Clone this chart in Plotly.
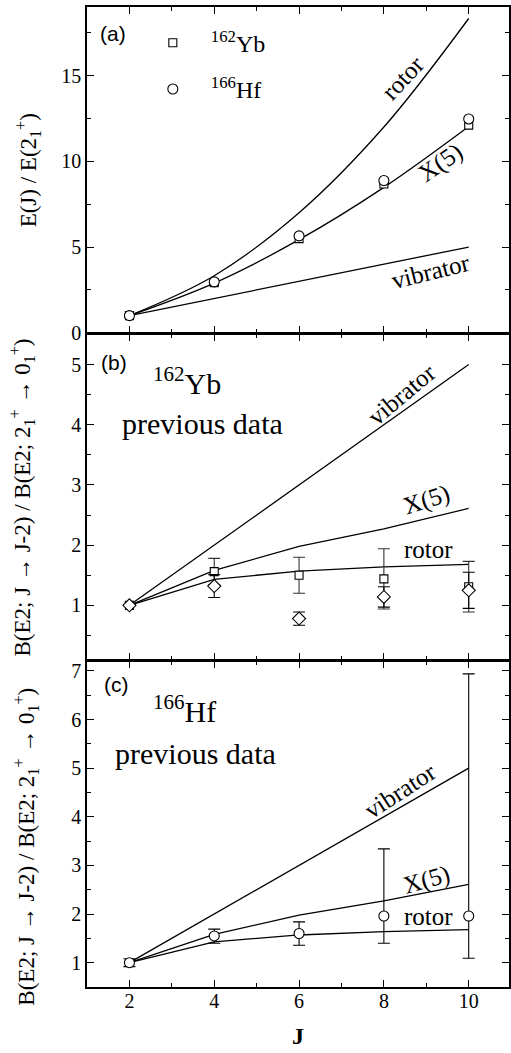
import plotly.graph_objects as go
from plotly.subplots import make_subplots

# Spin values of the ground-state band
J = [2, 4, 6, 8, 10]

# (a) Energy ratios E(J)/E(2+)
rotor_E = [1.0, 3.33, 7.0, 12.0, 18.33]
x5_E = [1.0, 2.90, 5.43, 8.48, 12.03]
vib_E = [1.0, 2.0, 3.0, 4.0, 5.0]
yb162_E = [1.0, 2.92, 5.49, 8.68, 12.11]
hf166_E = [1.0, 2.97, 5.65, 8.88, 12.47]

# (b), (c) B(E2) ratios
vib_B = [1.0, 2.0, 3.0, 4.0, 5.0]
x5_B = [1.0, 1.58, 1.98, 2.27, 2.61]
rot_B = [1.0, 1.43, 1.57, 1.64, 1.68]

# 162Yb previous data: two data sets
yb_sq_B = [1.0, 1.56, 1.50, 1.44, 1.31]
yb_sq_err = [None, 0.22, 0.30, 0.50, 0.42]
yb_dm_B = [1.0, 1.32, 0.78, 1.14, 1.25]
yb_dm_err = [None, 0.19, 0.11, 0.17, 0.30]

# 166Hf previous data (asymmetric errors)
hf_B = [1.0, 1.55, 1.60, 1.96, 1.96]
hf_err_plus = [0.08, 0.14, 0.24, 1.38, 4.98]
hf_err_minus = [0.08, 0.15, 0.24, 0.56, 0.87]

SERIF = "Liberation Serif"
SANS = "Liberation Sans"
LINE = dict(color="black", width=1.3)
FRAME_W = 1.7

fig = make_subplots(rows=3, cols=1, shared_xaxes=True, vertical_spacing=0)


def theory(row, y, spline=False):
    fig.add_trace(go.Scatter(x=J, y=y, mode="lines", line=dict(LINE, shape="spline" if spline else "linear"),
                             showlegend=False, hoverinfo="skip"), row=row, col=1)


# panel (a)
theory(1, rotor_E, spline=True)
theory(1, x5_E, spline=True)
theory(1, vib_E)
fig.add_trace(go.Scatter(x=J, y=yb162_E, mode="markers", name="\u00a0\u00a0\u00a0<sup>162</sup>Yb",
                         marker=dict(symbol="square", size=8, color="white", line=dict(color="black", width=1.1))),
              row=1, col=1)
fig.add_trace(go.Scatter(x=J, y=hf166_E, mode="markers", name="\u00a0\u00a0\u00a0<sup>166</sup>Hf", legendgroup="hf",
                         marker=dict(symbol="circle", size=10, color="white", line=dict(color="black", width=1.1))),
              row=1, col=1)

# panel (b)
theory(2, vib_B)
theory(2, x5_B)
theory(2, rot_B)
fig.add_trace(go.Scatter(x=J, y=yb_sq_B, mode="markers", showlegend=False,
                         error_y=dict(type="data", array=yb_sq_err, color="#333", thickness=1.1, width=6),
                         marker=dict(symbol="square", size=8, color="white", line=dict(color="black", width=1.1))),
              row=2, col=1)
fig.add_trace(go.Scatter(x=J, y=yb_dm_B, mode="markers", showlegend=False,
                         error_y=dict(type="data", array=yb_dm_err, color="black", thickness=1.1, width=6),
                         marker=dict(symbol="diamond", size=10, color="white", line=dict(color="black", width=1.1))),
              row=2, col=1)

# panel (c)
theory(3, vib_B)
theory(3, x5_B)
theory(3, rot_B)
fig.add_trace(go.Scatter(x=J, y=hf_B, mode="markers", showlegend=False,
                         error_y=dict(type="data", symmetric=False, array=hf_err_plus, arrayminus=hf_err_minus,
                                      color="black", thickness=1.1, width=6),
                         marker=dict(symbol="circle", size=10, color="white", line=dict(color="black", width=1.1))),
              row=3, col=1)

axis_common = dict(showline=True, linecolor="black", linewidth=FRAME_W, mirror="ticks", ticks="inside",
                   ticklen=7, tickwidth=1.2, tickcolor="black", showgrid=False, zeroline=False,
                   tickfont=dict(family=SERIF, size=20, color="black"))

for r in (1, 2, 3):
    fig.update_xaxes(axis_common, range=[1, 10.95], tick0=2, dtick=2,
                     minor=dict(dtick=1, ticks="inside", ticklen=4, tickwidth=1.2, tickcolor="black"),
                     showticklabels=(r == 3), row=r, col=1)

# panel domains leave a gap of one frame-line width so neighbouring frame lines coincide
gap = FRAME_W / 980.0
fig.update_yaxes(axis_common, range=[0, 19], dtick=5, domain=[0.6667 + gap / 2, 1],
                 minor=dict(dtick=2.5, ticks="inside", ticklen=4, tickwidth=1.2, tickcolor="black"), row=1, col=1)
fig.update_yaxes(axis_common, range=[0.1, 5.5], dtick=1, domain=[0.3333 + gap / 2, 0.6667 - gap / 2],
                 minor=dict(dtick=0.5, ticks="inside", ticklen=4, tickwidth=1.2, tickcolor="black"), row=2, col=1)
fig.update_yaxes(axis_common, range=[0.5, 7.2], dtick=1, domain=[0, 0.3333 - gap / 2],
                 minor=dict(dtick=0.5, ticks="inside", ticklen=4, tickwidth=1.2, tickcolor="black"), row=3, col=1)

fig.update_xaxes(ticklabelstandoff=-5,
                 title=dict(text="<b>J</b>", font=dict(family=SERIF, size=24, color="black"), standoff=16),
                 row=3, col=1)

ann = []


def text(x, y, s, yref, size=25, angle=0, family=SERIF, xanchor="center"):
    ann.append(dict(x=x, y=y, xref="x", yref=yref, text=s, showarrow=False, textangle=angle,
                    xanchor=xanchor, yanchor="middle", font=dict(family=family, size=size, color="black")))


# panel (a) labels
text(1.62, 17.45, "(a)", "y", size=21, family=SANS)
text(8.45, 14.9, "rotor", "y", angle=-47)
text(9.33, 9.9, "X(5)", "y", angle=-35)
text(9.1, 3.55, "vibrator", "y", angle=-14)

# panel (b) labels
text(1.63, 5.03, "(b)", "y2", size=21, family=SANS)
text(2.50, 4.72, "<sup>162</sup>Yb", "y2", size=30, xanchor="left")
text(3.72, 4.02, "previous data", "y2", size=30)
text(8.42, 4.5, "vibrator", "y2", angle=-40)
text(9.0, 2.75, "X(5)", "y2", angle=-18)
text(9.05, 1.93, "rotor", "y2")

# panel (c) labels
text(1.70, 6.73, "(c)", "y3", size=21, family=SANS)
text(2.50, 6.22, "<sup>166</sup>Hf", "y3", size=30, xanchor="left")
text(3.55, 5.30, "previous data", "y3", size=30)
text(8.39, 4.55, "vibrator", "y3", angle=-33)
text(9.0, 2.70, "X(5)", "y3", angle=-16)
text(9.05, 1.94, "rotor", "y3")

# vertical axis titles
ytitle_font = dict(family=SERIF, size=23, color="black")
ytitles = [
    (-0.1415, 0.8336, "E(J) / E(2<sub>1</sub><sup>+</sup>)"),
    (-0.1557, 0.4998, "B(E2; J \u2192 J-2) / B(E2; 2<sub>1</sub><sup>+</sup> \u2192 0<sub>1</sub><sup>+</sup>)"),
    (-0.146, 0.1436, "B(E2; J \u2192 J-2) / B(E2; 2<sub>1</sub><sup>+</sup> \u2192 0<sub>1</sub><sup>+</sup>)"),
]
for x, y, s in ytitles:
    ann.append(dict(x=x, y=y, xref="paper", yref="paper", xanchor="center", yanchor="middle",
                    textangle=-90, showarrow=False, text=s, font=ytitle_font))

fig.update_layout(
    width=511, height=1053,
    margin=dict(l=87, r=0, t=7, b=66),
    paper_bgcolor="white", plot_bgcolor="white",
    annotations=ann,
    legend=dict(x=0.156, y=0.986, xanchor="left", yanchor="top", bgcolor="rgba(0,0,0,0)",
                font=dict(family=SERIF, size=24, color="black"), tracegroupgap=12,
                itemsizing="trace"),
    showlegend=True,
)

fig.write_html("out.html")
